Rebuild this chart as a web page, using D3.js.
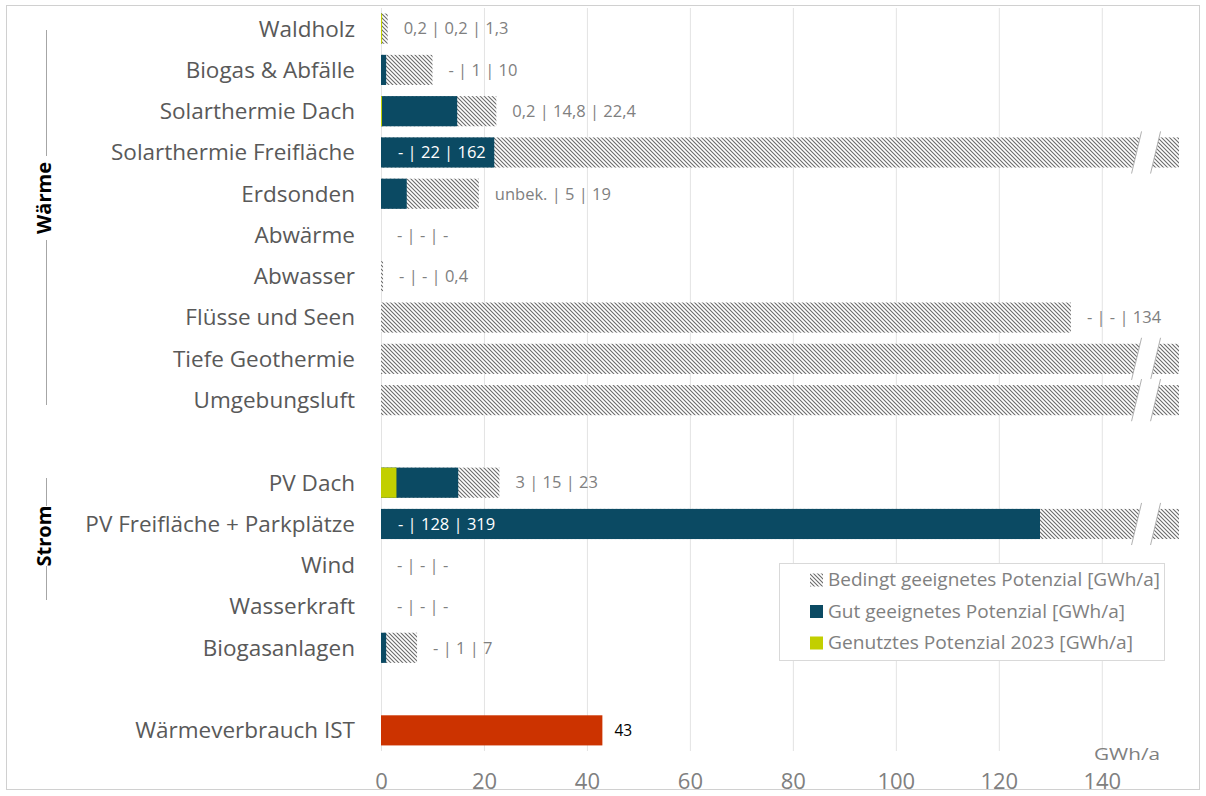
<!DOCTYPE html>
<html>
<head>
<meta charset="utf-8">
<script src="https://cdn.jsdelivr.net/npm/d3@7"></script>
<style>
  html, body { margin: 0; padding: 0; background: #fff; }
  svg { display: block; font-family: "Open Sans", "Noto Sans", sans-serif; }
</style>
</head>
<body>
<svg id="chart" width="1206" height="796"></svg>
<script>
// Rows from top to bottom; empty strings are spacer rows between the groups.
const categories = [
  "Waldholz", "Biogas & Abfälle", "Solarthermie Dach", "Solarthermie Freifläche",
  "Erdsonden", "Abwärme", "Abwasser", "Flüsse und Seen", "Tiefe Geothermie",
  "Umgebungsluft", "", "PV Dach", "PV Freifläche + Parkplätze", "Wind",
  "Wasserkraft", "Biogasanlagen", "", "Wärmeverbrauch IST"
];

// GWh/a — null means no value; Infinity means unbounded (beyond the axis)
const genutzt = [0.2, null, 0.2, null, null, null, null, null, null, null, null, 3, null, null, null, null, null, null];
const gut     = [0.2, 1, 14.8, 22, 5, null, null, null, null, null, null, 15, 128, null, null, 1, null, null];
const bedingt = [1.3, 10, 22.4, 162, 19, null, 0.4, 134, Infinity, Infinity, null, 23, 319, null, null, 7, null, null];
const verbrauch = [null, null, null, null, null, null, null, null, null, null, null, null, null, null, null, null, null, 43];

// Value labels: genutzt | gut | bedingt
const valueLabels = [
  "0,2 | 0,2 | 1,3", "- | 1 | 10", "0,2 | 14,8 | 22,4", "- | 22 | 162",
  "unbek. | 5 | 19", "- | - | -", "- | - | 0,4", "- | - | 134", "", "", "",
  "3 | 15 | 23", "- | 128 | 319", "- | - | -", "- | - | -", "- | 1 | 7", "", "43"
];

// Left-hand group brackets (pixel extents of the bracket lines and label centre)
const groups = [
  { name: "Wärme", top: 30, bottom: 405, mid: 198, half: 42 },
  { name: "Strom", top: 478, bottom: 600, mid: 536, half: 30 }
];

const xTicks = [0, 20, 40, 60, 80, 100, 120, 140];
const xMax = 155;
const breakAt = 148.6;
const unitLabel = "GWh/a";

const legendItems = [
  { key: "bedingt", label: "Bedingt geeignetes Potenzial [GWh/a]", len: 332 },
  { key: "gut", label: "Gut geeignetes Potenzial [GWh/a]", len: 297 },
  { key: "genutzt", label: "Genutztes Potenzial 2023 [GWh/a]", len: 305 }
];

const colors = {
  gut: "#0b4a63",
  genutzt: "#c2cf00",
  verbrauch: "#cc3300",
  hatch: "#6b6b6b",
  label: "#595959",
  muted: "#808080",
  grid: "#e3e3e3"
};

const svg = d3.select("#chart");

// Outer frame
svg.append("rect")
  .attr("x", 6.5).attr("y", 5.5).attr("width", 1193).attr("height", 784)
  .attr("fill", "none").attr("stroke", "#d0d0d0");

// Diagonal hatch for the "bedingt" segments
const defs = svg.append("defs");
const pat = defs.append("pattern")
  .attr("id", "hatch").attr("patternUnits", "userSpaceOnUse")
  .attr("width", 4).attr("height", 4);
pat.append("rect").attr("width", 4).attr("height", 4).attr("fill", "#fff");
pat.append("path")
  .attr("d", "M-1,-1 L5,5 M-1,3 L1,5 M3,-1 L5,1")
  .attr("stroke", colors.hatch).attr("stroke-width", 1.1);

const x = d3.scaleLinear().domain([0, xMax]).range([381, 1179]);
const y = d3.scaleBand()
  .domain(categories.map((d, i) => i))
  .range([8, 751])
  .paddingInner(0.27).paddingOuter(0.135);

// Vertical gridlines
svg.append("g")
  .selectAll("line").data(xTicks).join("line")
  .attr("x1", d => x(d) + 0.5).attr("x2", d => x(d) + 0.5)
  .attr("y1", 8).attr("y2", 751)
  .attr("stroke", colors.grid).attr("stroke-width", 1);

// X axis tick labels
const xAxis = d3.axisBottom(x).tickValues(xTicks).tickSize(0).tickPadding(0);
const gx = svg.append("g").attr("transform", "translate(0,773)").call(xAxis);
gx.select(".domain").remove();
gx.selectAll("text")
  .attr("font-size", 22).attr("fill", colors.muted)
  .attr("font-family", "'Open Sans', sans-serif");

svg.append("text")
  .attr("x", 1094).attr("y", 760)
  .attr("font-size", 16).attr("fill", colors.muted)
  .attr("textLength", 66).attr("lengthAdjust", "spacingAndGlyphs")
  .text(unitLabel);

// Category labels
svg.append("g")
  .selectAll("text").data(categories).join("text")
  .attr("x", 355)
  .attr("y", (d, i) => y(i) + y.bandwidth() / 2)
  .attr("dy", "0.35em")
  .attr("text-anchor", "end")
  .attr("font-size", 22.5).attr("fill", colors.label)
  .text(d => d);

const clampV = v => Math.min(v, xMax);
const rows = categories.map((c, i) => ({
  i, genutzt: genutzt[i], gut: gut[i], bedingt: bedingt[i], verbrauch: verbrauch[i], label: valueLabels[i]
}));

const bars = svg.append("g");

// Bedingt (hatched, drawn behind)
bars.selectAll("rect.bedingt").data(rows.filter(r => r.bedingt != null)).join("rect")
  .attr("class", "bedingt")
  .attr("x", x(0))
  .attr("y", r => y(r.i))
  .attr("width", r => x(clampV(r.bedingt)) - x(0))
  .attr("height", y.bandwidth())
  .attr("fill", "url(#hatch)");

// Gut (dark teal)
bars.selectAll("rect.gut").data(rows.filter(r => r.gut != null)).join("rect")
  .attr("class", "gut")
  .attr("x", x(0))
  .attr("y", r => y(r.i))
  .attr("width", r => x(clampV(r.gut)) - x(0))
  .attr("height", y.bandwidth())
  .attr("fill", colors.gut);

// Genutzt (yellow-green)
bars.selectAll("rect.genutzt").data(rows.filter(r => r.genutzt != null)).join("rect")
  .attr("class", "genutzt")
  .attr("x", x(0))
  .attr("y", r => y(r.i))
  .attr("width", r => Math.max(1, x(r.genutzt) - x(0)))
  .attr("height", y.bandwidth())
  .attr("fill", colors.genutzt);

// Wärmeverbrauch (red)
bars.selectAll("rect.verbrauch").data(rows.filter(r => r.verbrauch != null)).join("rect")
  .attr("class", "verbrauch")
  .attr("x", x(0))
  .attr("y", r => y(r.i))
  .attr("width", r => x(r.verbrauch) - x(0))
  .attr("height", y.bandwidth())
  .attr("fill", colors.verbrauch);

// Axis break marks on bars that run past the axis end
const broken = rows.filter(r => r.bedingt != null && r.bedingt > xMax);
const bx = x(breakAt), gap = 9.5, slant = 5, ext = 6;
const brk = svg.append("g");
broken.forEach(r => {
  const top = y(r.i) - ext, bot = y(r.i) + y.bandwidth() + ext;
  brk.append("polygon")
    .attr("points", [
      [bx - gap + slant, top], [bx + gap + slant, top],
      [bx + gap - slant, bot], [bx - gap - slant, bot]
    ].map(p => p.join(",")).join(" "))
    .attr("fill", "#fff");
  [-gap, gap].forEach(o => {
    brk.append("line")
      .attr("x1", bx + o + slant).attr("y1", top)
      .attr("x2", bx + o - slant).attr("y2", bot)
      .attr("stroke", "#b0b0b0").attr("stroke-width", 1);
  });
});

// Value labels
svg.append("g").selectAll("text").data(rows.filter(r => r.label)).join("text")
  .each(function (r) {
    const t = d3.select(this);
    const cy = y(r.i) + y.bandwidth() / 2;
    if (r.verbrauch != null) {
      t.attr("x", x(r.verbrauch) + 12).attr("fill", "#000").attr("font-size", 15.5);
    } else if (r.bedingt != null && r.bedingt > xMax) {
      t.attr("x", x(0) + 17).attr("fill", "#fff").attr("font-size", 16.5);
    } else {
      const end = d3.max([r.genutzt, r.gut, r.bedingt, 0].filter(v => v != null));
      t.attr("x", x(end) + 16).attr("fill", colors.muted).attr("font-size", 16.5);
    }
    t.attr("y", cy).attr("dy", "0.35em").text(r.label);
  });

// Group brackets on the left
const gg = svg.append("g");
groups.forEach(g => {
  gg.append("line").attr("x1", 46.5).attr("x2", 46.5).attr("y1", g.top).attr("y2", g.mid - g.half)
    .attr("stroke", "#a6a6a6");
  gg.append("line").attr("x1", 46.5).attr("x2", 46.5).attr("y1", g.mid + g.half).attr("y2", g.bottom)
    .attr("stroke", "#a6a6a6");
  gg.append("text")
    .attr("transform", `translate(44,${g.mid}) rotate(-90)`)
    .attr("text-anchor", "middle").attr("dy", "0.35em")
    .attr("font-size", 20).attr("font-weight", "bold").attr("fill", "#000")
    .attr("font-family", "'Open Sans', sans-serif")
    .text(g.name);
});

// Legend
const lg = svg.append("g");
lg.append("rect")
  .attr("x", 779.5).attr("y", 563.5).attr("width", 385).attr("height", 97)
  .attr("fill", "#fff").attr("stroke", "#d9d9d9");
legendItems.forEach((it, k) => {
  const cy = 580 + k * 31.5;
  lg.append("rect")
    .attr("x", 810).attr("y", cy - 6.5).attr("width", 13).attr("height", 13)
    .attr("fill", it.key === "bedingt" ? "url(#hatch)" : colors[it.key]);
  lg.append("text")
    .attr("x", 828).attr("y", cy).attr("dy", "0.35em")
    .attr("font-size", 18).attr("fill", colors.muted)
    .attr("textLength", it.len).attr("lengthAdjust", "spacingAndGlyphs")
    .text(it.label);
});
</script>
</body>
</html>
